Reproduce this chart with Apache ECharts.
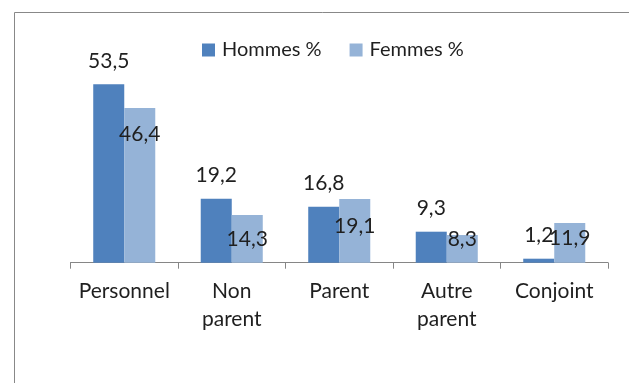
<!DOCTYPE html>
<html>
<head>
<meta charset="utf-8">
<script src="https://cdn.jsdelivr.net/npm/echarts@6/dist/echarts.min.js"></script>
<style>
  html, body { margin: 0; padding: 0; background: #fff; }
  #chart { width: 629px; height: 383px; }
</style>
</head>
<body>
<div id="chart"></div>
<script>
// Categories and values (percent)
const categories = ['Personnel', 'Non parent', 'Parent', 'Autre parent', 'Conjoint'];
const seriesNames = ['Hommes %', 'Femmes %'];
const hommes = [53.5, 19.2, 16.8, 9.3, 1.2];
const femmes = [46.4, 14.3, 19.1, 8.3, 11.9];

// Vertical nudges for the hand-placed Femmes value labels
const femmesLabelNudge = [11, 9, 12, -11, 0];

const FONT = 'Lato, "Noto Sans", sans-serif';
const TEXT = '#1f1f1f';
const fmt = v => String(v).replace('.', ',');

const chart = echarts.init(document.getElementById('chart'), null, { renderer: 'canvas' });

chart.setOption({
  animation: false,
  backgroundColor: '#ffffff',
  textStyle: { fontFamily: FONT },
  graphic: [{
    type: 'rect',
    shape: { x: 14.5, y: 12.5, width: 700, height: 500 },
    style: { fill: 'none', stroke: '#888888', lineWidth: 1 },
    silent: true
  }],
  legend: {
    data: seriesNames,
    left: 197,
    top: 35,
    itemWidth: 13,
    itemHeight: 13,
    itemGap: 28,
    icon: 'rect',
    textStyle: { fontFamily: FONT, fontSize: 20, color: TEXT, padding: [0, 0, 0, 2] }
  },
  grid: { left: 70.5, right: 21, top: 62.7, bottom: 120.3, containLabel: false },
  xAxis: {
    type: 'category',
    data: categories,
    axisLine: { lineStyle: { color: '#868686', width: 1 } },
    axisTick: { show: true, length: 6, lineStyle: { color: '#868686' } },
    axisLabel: {
      interval: 0,
      margin: 15,
      fontFamily: FONT,
      fontSize: 21,
      color: TEXT,
      lineHeight: 28,
      formatter: v => v.replace(' ', '\n')
    }
  },
  yAxis: {
    type: 'value',
    min: 0,
    max: 60,
    show: false,
    splitLine: { show: false }
  },
  series: [
    {
      name: seriesNames[0],
      type: 'bar',
      data: hommes,
      barGap: '0%',
      barCategoryGap: '42.3%',
      itemStyle: { color: '#4F81BD' },
      label: {
        show: true,
        position: 'top',
        distance: 13,
        fontFamily: FONT,
        fontSize: 21,
        color: TEXT,
        formatter: p => fmt(p.value)
      }
    },
    {
      name: seriesNames[1],
      type: 'bar',
      data: femmes.map((v, i) => ({
        value: v,
        label: { offset: [0, femmesLabelNudge[i]] }
      })),
      barGap: '0%',
      barCategoryGap: '42.3%',
      itemStyle: { color: '#95B3D7' },
      label: {
        show: true,
        position: 'insideTop',
        distance: 5,
        fontFamily: FONT,
        fontSize: 21,
        color: TEXT,
        formatter: p => fmt(p.value)
      }
    }
  ]
});
</script>
</body>
</html>
